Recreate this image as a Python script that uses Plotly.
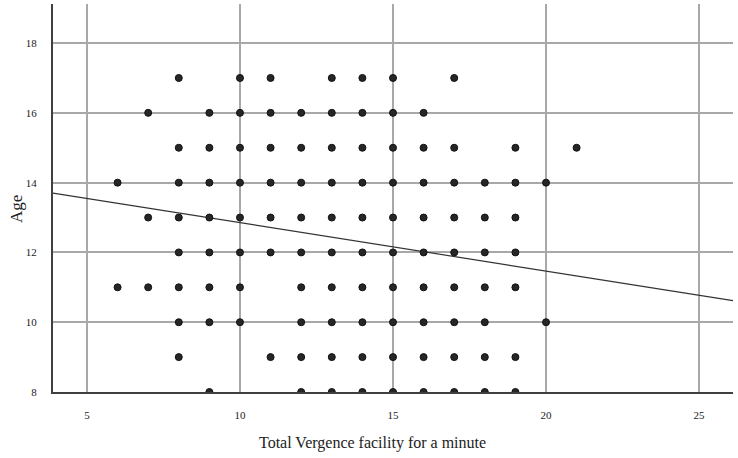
import plotly.graph_objects as go

# Scatter data: rows by age, listing facility values present
ages = [17, 16, 15, 14, 13, 12, 11, 10, 9, 8]
facility_by_age = [
    [8, 10, 11, 13, 14, 15, 17],
    [7, 9, 10, 11, 12, 13, 14, 15, 16],
    [8, 9, 10, 11, 12, 13, 14, 15, 16, 17, 19, 21],
    [6, 8, 9, 10, 11, 12, 13, 14, 15, 16, 17, 18, 19, 20],
    [7, 8, 9, 10, 11, 12, 13, 14, 15, 16, 17, 18, 19],
    [8, 9, 10, 11, 12, 13, 14, 15, 16, 17, 18, 19],
    [6, 7, 8, 9, 10, 12, 13, 14, 15, 16, 17, 18, 19],
    [8, 9, 10, 12, 13, 14, 15, 16, 17, 18, 20],
    [8, 11, 12, 13, 14, 15, 16, 17, 18, 19],
    [9, 12, 13, 14, 15, 16, 17, 18, 19],
]

# Fit line endpoints
fit_x = [3.89, 26.11]
fit_y = [13.70, 10.62]

x_ticks = [5, 10, 15, 20, 25]
y_ticks = [8, 10, 12, 14, 16, 18]

xs, ys = [], []
for a, row in zip(ages, facility_by_age):
    for v in row:
        xs.append(v)
        ys.append(a)

FONT = "Liberation Serif"

fig = go.Figure()
fig.add_trace(go.Scatter(
    x=fit_x, y=fit_y, mode="lines",
    line=dict(color="#333333", width=1.2),
    showlegend=False, hoverinfo="skip"))
fig.add_trace(go.Scatter(
    x=xs, y=ys, mode="markers",
    marker=dict(size=7, color="#262626", line=dict(color="#111111", width=1)),
    showlegend=False, cliponaxis=True))

L, R, T, B = 53, 5, 4, 66
W, H = 738, 458
pw, ph = W - L - R, H - T - B

fig.update_layout(
    width=W, height=H,
    margin=dict(l=L, r=R, t=T, b=B),
    plot_bgcolor="white", paper_bgcolor="white",
    font=dict(family=FONT, color="#222222"),
    xaxis=dict(range=[3.89, 26.11], tickvals=x_ticks, showgrid=True,
               gridcolor="#a8a8a8", gridwidth=1.5, zeroline=False,
               showline=True, linecolor="#404040", linewidth=2,
               ticks="", tickfont=dict(size=11, family=FONT, color="#222"),
               ticklabelstandoff=12),
    yaxis=dict(range=[8, 19.12], tickvals=y_ticks, showgrid=True,
               gridcolor="#a8a8a8", gridwidth=1.5, zeroline=False,
               showline=True, linecolor="#404040", linewidth=2,
               ticks="", tickfont=dict(size=11, family=FONT, color="#222"),
               ticklabelstandoff=12),
    annotations=[
        dict(text="Total Vergence facility for a minute", xref="paper", yref="paper",
             x=(372 - L) / pw, y=(H - B - 443) / ph, xanchor="center", yanchor="middle",
             showarrow=False, font=dict(size=16, family=FONT, color="#222")),
        dict(text="Age", xref="paper", yref="paper", textangle=-90,
             x=(16 - L) / pw, y=(H - B - 209) / ph, xanchor="center", yanchor="middle",
             showarrow=False, font=dict(size=17, family=FONT, color="#222")),
    ],
)

fig.write_html("out.html")
